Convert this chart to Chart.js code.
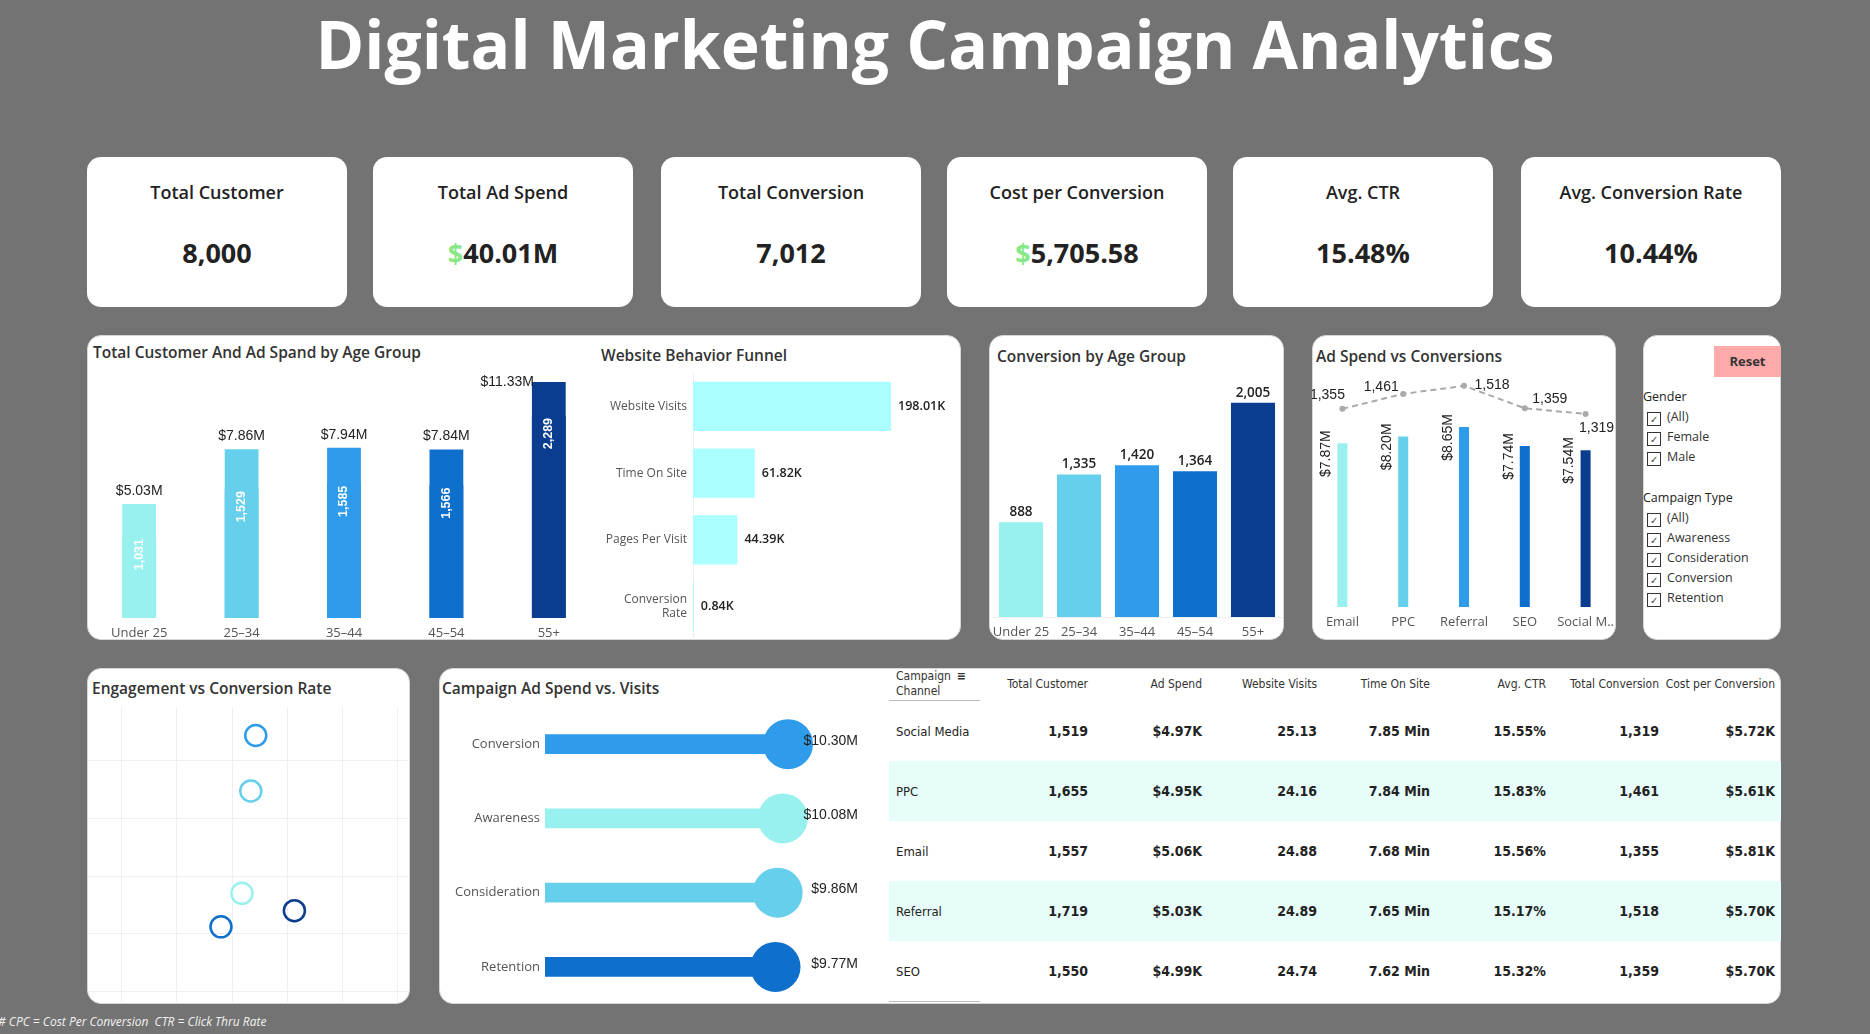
<!DOCTYPE html>
<html>
<head>
<meta charset="utf-8">
<title>Digital Marketing Campaign Analytics</title>
<script src="https://cdn.jsdelivr.net/npm/chart.js@4.4.1/dist/chart.umd.min.js"></script>
<style>
  body { margin:0; width:1870px; height:1034px; background:#737373; position:relative; overflow:hidden; font-family:'Open Sans',sans-serif; color:#222; }
  .title { position:absolute; left:0; width:1870px; top:0; text-align:center; color:#fff; font-weight:700; font-size:66px; line-height:86px; }
  .card { position:absolute; top:157px; width:260px; height:150px; background:#fff; border-radius:14px; text-align:center; }
  .card .lbl { position:absolute; top:23px; width:100%; font-size:18px; font-weight:600; line-height:25px; }
  .card .val { position:absolute; top:77px; width:100%; font-size:27px; font-weight:700; line-height:37px; }
  .card .val span { color:#86e886; }
  .panel { position:absolute; background:#fff; border-radius:14px; box-sizing:border-box; border:1px solid #d6d6d6; }
  .ptitle { position:absolute; font-size:15.5px; font-weight:600; color:#333; line-height:20px; white-space:nowrap; }
  canvas { position:absolute; }
  .reset { position:absolute; left:1714px; top:346px; width:67px; height:31px; background:#ffaaaa; font-size:13px; font-weight:700; color:#333; text-align:center; line-height:31px; }
  .fhead { position:absolute; left:1643px; font-size:12.5px; color:#222; line-height:16px; }
  .fitem { position:absolute; left:1647px; font-size:12.5px; color:#333; line-height:16px; white-space:nowrap; }
  .fitem i { display:inline-block; width:12px; height:12px; border:1px solid #333; vertical-align:-2px; margin-right:6px; font-style:normal; font-size:10px; line-height:12px; text-align:center; color:#444; }
  #tbl { position:absolute; left:889px; top:668px; width:892px; border-collapse:collapse; table-layout:fixed; font-family:'Liberation Sans Narrow','DejaVu Sans Condensed',Roboto,sans-serif; }
  #tbl th { height:32px; font-size:12px; font-weight:400; color:#333; text-align:right; padding:0; vertical-align:middle; line-height:15px; }
  #tbl td { height:60px; font-size:14px; font-weight:700; color:#222; text-align:right; padding:0; }
  #tbl th.ch { text-align:left; padding-left:7px; border-bottom:1px solid #bbb; }
  #tbl td.ch { text-align:left; padding-left:7px; font-weight:400; font-size:13px; }
  #tbl tr.alt td { background:#e6fdfa; }
  #tbl tr:last-child td.ch { border-bottom:1px solid #bbb; }
  .foot { position:absolute; left:-2px; top:1014px; font-size:12px; font-style:italic; color:#f2f2f2; line-height:16px; white-space:nowrap; }
</style>
</head>
<body>
<div class="title">Digital Marketing Campaign Analytics</div>
<div id="cards"></div>

<div class="panel" style="left:87px;top:335px;width:874px;height:305px"></div>
<div class="panel" style="left:989px;top:335px;width:295px;height:305px"></div>
<div class="panel" style="left:1312px;top:335px;width:304px;height:305px"></div>
<div class="panel" style="left:1643px;top:335px;width:138px;height:305px"></div>
<div class="panel" style="left:87px;top:668px;width:323px;height:336px"></div>
<div class="panel" style="left:439px;top:668px;width:1342px;height:336px"></div>

<div class="ptitle" style="left:93px;top:342px">Total Customer And Ad Spand by Age Group</div>
<div class="ptitle" style="left:601px;top:345px">Website Behavior Funnel</div>
<div class="ptitle" style="left:997px;top:346px">Conversion by Age Group</div>
<div class="ptitle" style="left:1316px;top:346px">Ad Spend vs Conversions</div>
<div class="ptitle" style="left:92px;top:678px">Engagement vs Conversion Rate</div>
<div class="ptitle" style="left:442px;top:678px">Campaign Ad Spend vs. Visits</div>

<canvas id="ageChart" width="512" height="295" style="left:88px;top:345px"></canvas>
<canvas id="funnelChart" width="355" height="270" style="left:600px;top:370px"></canvas>
<canvas id="convChart" width="295" height="275" style="left:989px;top:365px"></canvas>
<canvas id="channelChart" width="304" height="270" style="left:1312px;top:365px"></canvas>
<canvas id="engChart" width="320" height="295" style="left:88px;top:707px"></canvas>
<canvas id="campChart" width="430" height="297" style="left:442px;top:707px"></canvas>

<div class="reset">Reset</div>
<div id="filters"></div>
<table id="tbl"></table>
<div class="foot"># CPC = Cost Per Conversion&nbsp; CTR = Click Thru Rate</div>

<script>
// KPI cards
const kpiLabels = ['Total Customer', 'Total Ad Spend', 'Total Conversion', 'Cost per Conversion', 'Avg. CTR', 'Avg. Conversion Rate'];
const kpiValues = ['8,000', '$40.01M', '7,012', '$5,705.58', '15.48%', '10.44%'];

// age groups
const ageGroups = ['Under 25', '25–34', '35–44', '45–54', '55+'];
const ageAdSpend = [5.03, 7.86, 7.94, 7.84, 11.33];      // $M
const ageCustomers = [1031, 1529, 1585, 1566, 2289];
const ageConversions = [888, 1335, 1420, 1364, 2005];
const ageTimeOnSite = [7.718, 7.734, 7.743, 7.68, 7.813];   // engagement
const ageConvRate = [10.37, 10.547, 10.643, 10.312, 10.34]; // %

// funnel
const funnelSteps = ['Website Visits', 'Time On Site', 'Pages Per Visit', ['Conversion', 'Rate']];
const funnelValues = [198.01, 61.82, 44.39, 0.84];  // K

// channels
const channels = ['Email', 'PPC', 'Referral', 'SEO', 'Social M..'];
const channelSpend = [7.87, 8.20, 8.65, 7.74, 7.54]; // $M
const channelConv = [1355, 1461, 1518, 1359, 1319];

// campaign types
const campaignTypes = ['Conversion', 'Awareness', 'Consideration', 'Retention'];
const campaignSpend = [10.30, 10.08, 9.86, 9.77]; // $M

// table
const tblHeaders = ['Total Customer', 'Ad Spend', 'Website Visits', 'Time On Site', 'Avg. CTR', 'Total Conversion', 'Cost per Conversion'];
const tblChannels = ['Social Media', 'PPC', 'Email', 'Referral', 'SEO'];
const tblCustomers = [1519, 1655, 1557, 1719, 1550];
const tblAdSpend = [4.97, 4.95, 5.06, 5.03, 4.99];   // $K
const tblVisits = [25.13, 24.16, 24.88, 24.89, 24.74];
const tblTime = [7.85, 7.84, 7.68, 7.65, 7.62];
const tblCtr = [15.55, 15.83, 15.56, 15.17, 15.32];
const tblConv = [1319, 1461, 1355, 1518, 1359];
const tblCpc = [5.72, 5.61, 5.81, 5.70, 5.70];      // $K

// filters
const genders = ['(All)', 'Female', 'Male'];
const campaignFilter = ['(All)', 'Awareness', 'Consideration', 'Conversion', 'Retention'];

const ageColors = ['#98f1ee', '#66cfec', '#2e9beb', '#0e6fcd', '#0a3d8f'];
const campaignColors = ['#2e9beb', '#98f1ee', '#66cfec', '#0e6fcd'];

Chart.defaults.font.family = "'Open Sans', sans-serif";
Chart.defaults.animation = false;
Chart.defaults.layout.autoPadding = false;
Chart.defaults.plugins.legend.display = false;
Chart.defaults.plugins.tooltip.enabled = false;

const fmt = n => n.toLocaleString('en-US');
// keep first/last tick labels from pushing the plot area around
const noPad = a => { a.paddingLeft = a.paddingRight = a.paddingTop = a.paddingBottom = 0; };

// cards
let cardsHtml = '';
const cardLeft = [87, 373, 661, 947, 1233, 1521];
kpiLabels.forEach((l, i) => {
  const v = kpiValues[i].replace('$', '<span>$</span>');
  cardsHtml += `<div class="card" style="left:${cardLeft[i]}px"><div class="lbl">${l}</div><div class="val">${v}</div></div>`;
});
document.getElementById('cards').innerHTML = cardsHtml;

// filters
let fh = '<div class="fhead" style="top:389px">Gender</div>';
genders.forEach((g, i) => { fh += `<div class="fitem" style="top:${409 + i * 20}px"><i>✓</i>${g}</div>`; });
fh += '<div class="fhead" style="top:490px">Campaign Type</div>';
campaignFilter.forEach((g, i) => { fh += `<div class="fitem" style="top:${510 + i * 20}px"><i>✓</i>${g}</div>`; });
document.getElementById('filters').innerHTML = fh;

// table
const colW = [91, 108, 114, 115, 113, 116, 113, 122];
let th = '<colgroup>' + colW.map(w => `<col style="width:${w}px">`).join('') + '</colgroup>';
th += '<tr><th class="ch">Campaign<span style="margin-left:6px;font-weight:700">&#8801;</span><br>Channel</th>' + tblHeaders.map((h, i) => `<th${i === 6 ? ' style="padding-right:6px"' : ''}>${h}</th>`).join('') + '</tr>';
tblChannels.forEach((c, i) => {
  const cells = [fmt(tblCustomers[i]), '$' + tblAdSpend[i].toFixed(2) + 'K', tblVisits[i].toFixed(2), tblTime[i].toFixed(2) + ' Min',
    tblCtr[i].toFixed(2) + '%', fmt(tblConv[i]), '$' + tblCpc[i].toFixed(2) + 'K'];
  th += `<tr class="${i % 2 ? 'alt' : ''}"><td class="ch">${c}</td>` + cells.map((v, j) => `<td${j === 6 ? ' style="padding-right:6px"' : ''}>${v}</td>`).join('') + '</tr>';
});
document.getElementById('tbl').innerHTML = th;

const flatTicks = { color: '#555', font: { size: 13 }, padding: 7, maxRotation: 0, minRotation: 0, autoSkip: false };

// 1. customers and ad spend by age group
const spendMin = -0.86, custMin = 189;
new Chart(document.getElementById('ageChart'), {
  type: 'bar',
  data: {
    labels: ageGroups,
    datasets: [
      { data: ageAdSpend, yAxisID: 'y', backgroundColor: ageColors, grouped: false, base: spendMin, barPercentage: 0.33, categoryPercentage: 1 },
      { data: ageCustomers, yAxisID: 'y1', backgroundColor: ageColors, grouped: false, base: custMin, barPercentage: 0.33, categoryPercentage: 1 }
    ]
  },
  options: {
    responsive: false,
    layout: { padding: { top: 27 } },
    scales: {
      x: { grid: { display: false, drawTicks: false }, border: { display: false }, ticks: flatTicks, afterFit: a => { noPad(a); a.height = 22; } },
      y: { display: false, min: spendMin, max: 11.85 },
      y1: { display: false, min: custMin, max: 2746 }
    }
  },
  plugins: [{
    id: 'ageLabels',
    afterDatasetsDraw(chart) {
      const ctx = chart.ctx, top = chart.chartArea.top;
      ctx.save();
      ctx.font = "14px 'Liberation Sans', Arial, sans-serif";
      ctx.fillStyle = '#222';
      chart.getDatasetMeta(0).data.forEach((b, i) => {
        const txt = '$' + ageAdSpend[i].toFixed(2) + 'M';
        if (b.y - top < 20) {
          ctx.textAlign = 'right'; ctx.textBaseline = 'middle';
          ctx.fillText(txt, b.x - b.width / 2 + 2, b.y);
        } else {
          ctx.textAlign = 'center'; ctx.textBaseline = 'bottom';
          ctx.fillText(txt, b.x, b.y - 6);
        }
      });
      ctx.font = "bold 12.5px 'Liberation Sans', Arial, sans-serif";
      ctx.fillStyle = '#fff';
      chart.getDatasetMeta(1).data.forEach((b, i) => {
        ctx.save();
        ctx.translate(b.x, b.y);
        ctx.rotate(-Math.PI / 2);
        ctx.textAlign = 'right'; ctx.textBaseline = 'middle';
        ctx.fillText(fmt(ageCustomers[i]), -2, 0);
        ctx.restore();
      });
      ctx.restore();
    }
  }]
});

// 2. website behaviour funnel
new Chart(document.getElementById('funnelChart'), {
  type: 'bar',
  data: { labels: funnelSteps, datasets: [{ data: funnelValues, backgroundColor: '#abffff', barPercentage: 0.735, categoryPercentage: 1 }] },
  options: {
    responsive: false,
    indexAxis: 'y',
    layout: { padding: { top: 3 } },
    scales: {
      x: { display: false, min: 0, max: 262 },
      y: { grid: { display: false, drawTicks: false }, border: { color: '#eeeeee' }, ticks: { color: '#555', font: { size: 12 }, padding: 6 }, afterFit: a => { noPad(a); a.width = 93; } }
    }
  },
  plugins: [{
    id: 'funnelLabels',
    afterDatasetsDraw(chart) {
      const ctx = chart.ctx;
      ctx.save();
      ctx.font = "600 12.5px 'Open Sans', sans-serif";
      ctx.fillStyle = '#222';
      ctx.textAlign = 'left'; ctx.textBaseline = 'middle';
      chart.getDatasetMeta(0).data.forEach((b, i) => {
        ctx.fillText(funnelValues[i].toFixed(2) + 'K', b.x + 7, b.y);
      });
      ctx.restore();
    }
  }]
});

// 3. conversion by age group
new Chart(document.getElementById('convChart'), {
  type: 'bar',
  data: { labels: ageGroups, datasets: [{ data: ageConversions, backgroundColor: ageColors, barPercentage: 0.76, categoryPercentage: 1 }] },
  options: {
    responsive: false,
    layout: { padding: { top: 8, left: 3, right: 2 } },
    scales: {
      x: { grid: { display: false, drawTicks: false }, border: { color: '#eeeeee' }, ticks: flatTicks, afterFit: a => { noPad(a); a.height = 23; } },
      y: { display: false, min: 0, max: 2284 }
    }
  },
  plugins: [{
    id: 'convLabels',
    afterDatasetsDraw(chart) {
      const ctx = chart.ctx;
      ctx.save();
      ctx.font = "600 13.5px 'Open Sans', sans-serif";
      ctx.fillStyle = '#222';
      ctx.textAlign = 'center'; ctx.textBaseline = 'bottom';
      chart.getDatasetMeta(0).data.forEach((b, i) => ctx.fillText(fmt(ageConversions[i]), b.x, b.y - 3));
      ctx.restore();
    }
  }]
});

// 4. ad spend vs conversions by channel
const convLabelOffset = [[-15, -14], [-22, -7], [28, -1], [25, -9], [11, 14]];
new Chart(document.getElementById('channelChart'), {
  type: 'bar',
  data: {
    labels: channels,
    datasets: [
      { type: 'line', data: channelConv, yAxisID: 'y1', borderColor: '#aaaaaa', borderWidth: 2, borderDash: [6, 4], pointRadius: 3, pointBackgroundColor: '#aaaaaa', pointBorderWidth: 0, tension: 0 },
      { data: channelSpend, yAxisID: 'y', backgroundColor: ageColors, barPercentage: 0.165, categoryPercentage: 1 }
    ]
  },
  options: {
    responsive: false,
    layout: { padding: { top: 8 } },
    scales: {
      x: { grid: { display: false, drawTicks: false }, border: { display: false }, ticks: flatTicks, afterFit: a => { noPad(a); a.height = 28; } },
      y: { display: false, min: 0, max: 11.25 },
      y1: { display: false, min: -50, max: 1609 }
    }
  },
  plugins: [{
    id: 'channelLabels',
    afterDatasetsDraw(chart) {
      const ctx = chart.ctx;
      ctx.save();
      ctx.font = "14px 'Liberation Sans', Arial, sans-serif";
      ctx.fillStyle = '#222';
      chart.getDatasetMeta(1).data.forEach((b, i) => {
        ctx.save();
        ctx.translate(b.x - 16, b.y - 13);
        ctx.rotate(-Math.PI / 2);
        ctx.textAlign = 'right'; ctx.textBaseline = 'middle';
        ctx.fillText('$' + channelSpend[i].toFixed(2) + 'M', 0, 0);
        ctx.restore();
      });
      ctx.textAlign = 'center'; ctx.textBaseline = 'middle';
      chart.getDatasetMeta(0).data.forEach((p, i) => {
        ctx.fillText(fmt(channelConv[i]), p.x + convLabelOffset[i][0], p.y + convLabelOffset[i][1]);
      });
      ctx.restore();
    }
  }]
});

// 5. engagement vs conversion rate
const engPoints = ageTimeOnSite.map((x, i) => ({ x, y: ageConvRate[i] }));
const gridOnly = { display: false, stepSize: 0.1, includeBounds: false };
new Chart(document.getElementById('engChart'), {
  type: 'scatter',
  data: { datasets: [{ data: engPoints, pointRadius: 10.5, pointBorderWidth: 2.5, pointBackgroundColor: 'rgba(0,0,0,0)', pointBorderColor: ageColors }] },
  options: {
    responsive: false,
    scales: {
      x: { min: 7.4391, max: 8.0188, ticks: gridOnly, grid: { color: '#efefef', drawTicks: false }, border: { display: false }, afterFit: a => { noPad(a); a.height = 0; } },
      y: { min: 10.182, max: 10.6924, ticks: gridOnly, grid: { color: '#efefef', drawTicks: false }, border: { display: false }, afterFit: a => { noPad(a); a.width = 0; } }
    }
  }
});

// 6. campaign ad spend lollipop
new Chart(document.getElementById('campChart'), {
  type: 'bar',
  data: {
    labels: campaignTypes,
    datasets: [
      { type: 'line', indexAxis: 'y', data: campaignSpend, showLine: false, pointRadius: 25, pointBackgroundColor: campaignColors, pointBorderWidth: 0 },
      { indexAxis: 'y', data: campaignSpend, backgroundColor: campaignColors, barThickness: 19 }
    ]
  },
  options: {
    responsive: false,
    indexAxis: 'y',
    scales: {
      x: { display: false, min: 0, max: 13.86 },
      y: { grid: { display: false, drawTicks: false }, border: { display: false }, ticks: { color: '#555', font: { size: 13 }, padding: 5 }, afterFit: a => { noPad(a); a.width = 103; } }
    }
  },
  plugins: [{
    id: 'campLabels',
    afterDatasetsDraw(chart) {
      const ctx = chart.ctx;
      ctx.save();
      ctx.font = "14px 'Liberation Sans', Arial, sans-serif";
      ctx.fillStyle = '#222';
      ctx.textAlign = 'right'; ctx.textBaseline = 'middle';
      chart.getDatasetMeta(1).data.forEach((b, i) => {
        ctx.fillText('$' + campaignSpend[i].toFixed(2) + 'M', chart.chartArea.right - 14, b.y - 3);
      });
      ctx.restore();
    }
  }]
});
</script>
</body>
</html>
